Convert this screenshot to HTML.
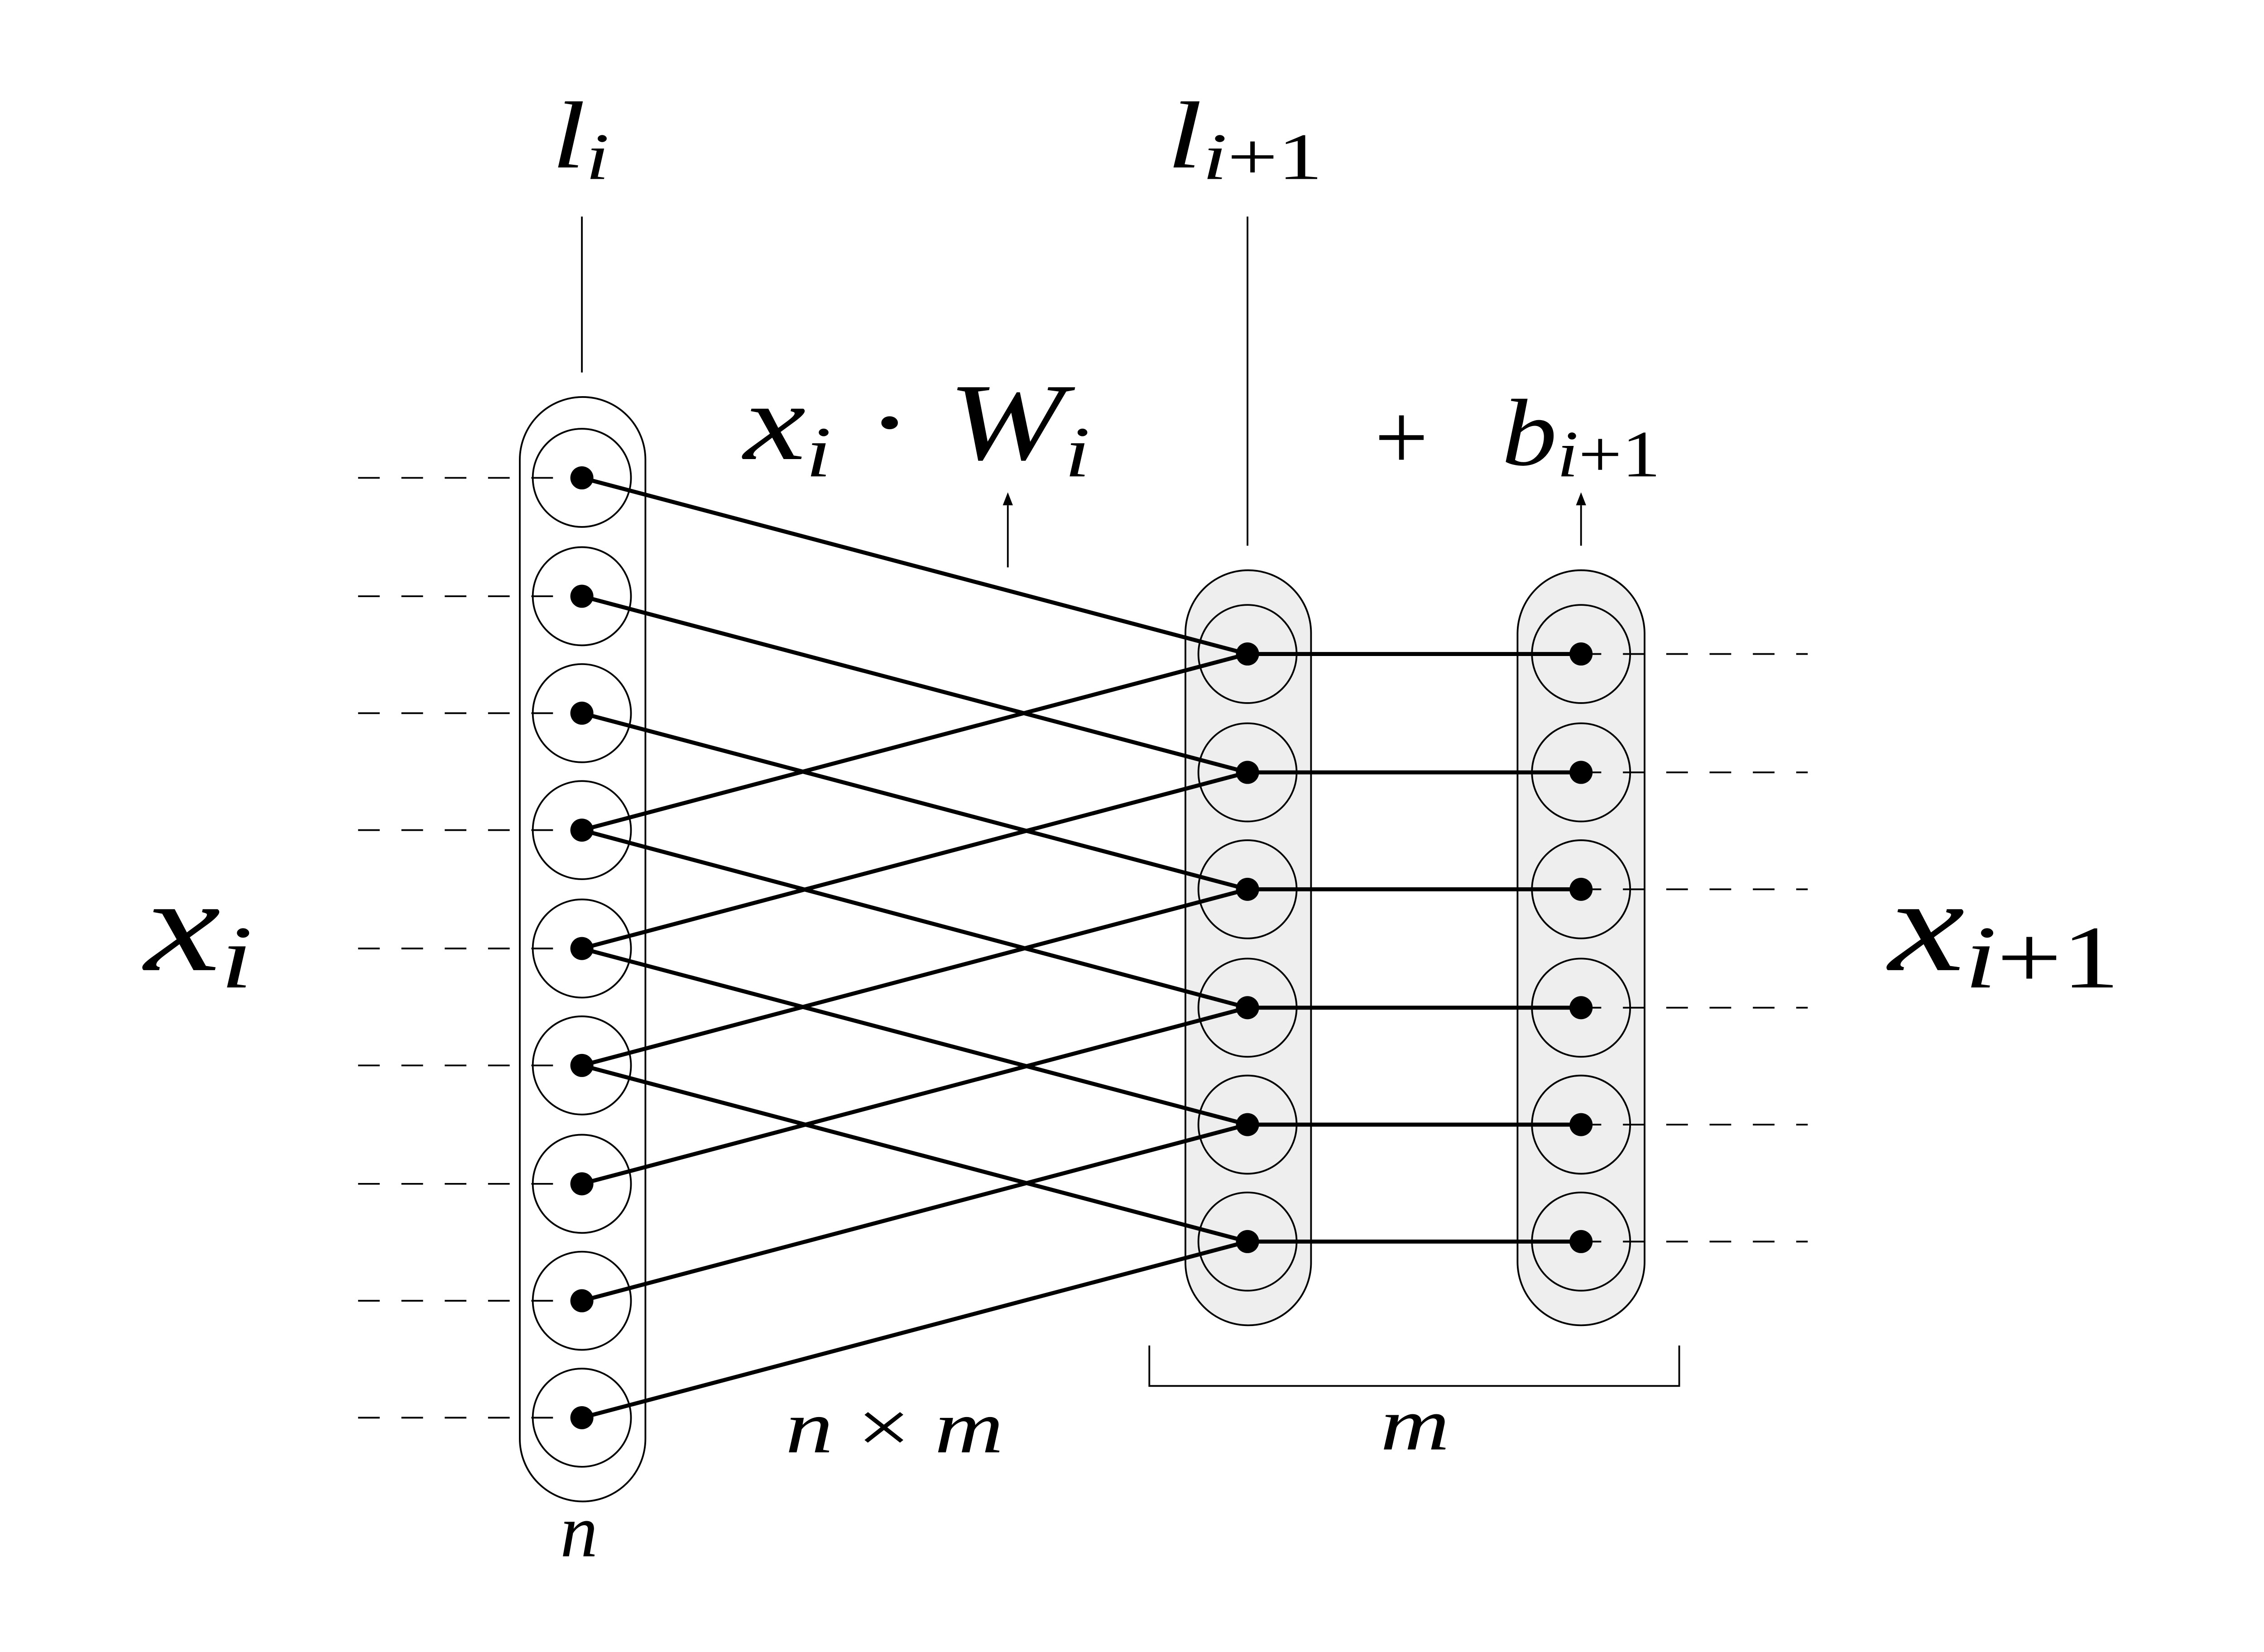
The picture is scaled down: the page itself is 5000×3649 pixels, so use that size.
<!DOCTYPE html>
<html><head><meta charset="utf-8"><style>html,body{margin:0;padding:0;background:#fff}svg{display:block}</style></head>
<body>
<svg width="5000" height="3649" viewBox="0 0 1568 1144.3" preserveAspectRatio="none" xmlns="http://www.w3.org/2000/svg" font-family="Liberation Serif, serif" font-style="italic">
<rect width="1568" height="1145" fill="#fff"/>
<rect x="360" y="275" width="87" height="765" rx="43.5" fill="#fff" stroke="#000" stroke-width="1.2"/>
<rect x="821" y="395" width="87" height="523" rx="43.5" fill="#eee" stroke="#000" stroke-width="1.2"/>
<rect x="1051" y="395" width="88" height="523" rx="44" fill="#eee" stroke="#000" stroke-width="1.2"/>
<g stroke="#000" stroke-width="1.2" stroke-dasharray="15 15" fill="none">
<line x1="248" y1="331" x2="403" y2="331"/><line x1="248" y1="413" x2="403" y2="413"/>
<line x1="248" y1="494" x2="403" y2="494"/><line x1="248" y1="575" x2="403" y2="575"/>
<line x1="248" y1="657" x2="403" y2="657"/><line x1="248" y1="738" x2="403" y2="738"/>
<line x1="248" y1="820" x2="403" y2="820"/><line x1="248" y1="901" x2="403" y2="901"/>
<line x1="248" y1="982" x2="403" y2="982"/>
<line x1="1094" y1="453" x2="1252" y2="453"/>
<line x1="1094" y1="535" x2="1252" y2="535"/>
<line x1="1094" y1="616" x2="1252" y2="616"/>
<line x1="1094" y1="698" x2="1252" y2="698"/>
<line x1="1094" y1="779" x2="1252" y2="779"/>
<line x1="1094" y1="860" x2="1252" y2="860"/>
</g>
<g fill="none" stroke="#000" stroke-width="1.2">
<circle cx="403" cy="331" r="34"/><circle cx="403" cy="413" r="34"/><circle cx="403" cy="494" r="34"/>
<circle cx="403" cy="575" r="34"/><circle cx="403" cy="657" r="34"/><circle cx="403" cy="738" r="34"/>
<circle cx="403" cy="820" r="34"/><circle cx="403" cy="901" r="34"/><circle cx="403" cy="982" r="34"/>
<circle cx="864" cy="453" r="34"/><circle cx="864" cy="535" r="34"/><circle cx="864" cy="616" r="34"/>
<circle cx="864" cy="698" r="34"/><circle cx="864" cy="779" r="34"/><circle cx="864" cy="860" r="34"/>
<circle cx="1095" cy="453" r="34"/><circle cx="1095" cy="535" r="34"/><circle cx="1095" cy="616" r="34"/>
<circle cx="1095" cy="698" r="34"/><circle cx="1095" cy="779" r="34"/><circle cx="1095" cy="860" r="34"/>
</g>
<g stroke="#000" stroke-width="2.8">
<line x1="403" y1="331" x2="864" y2="453"/><line x1="403" y1="413" x2="864" y2="535"/>
<line x1="403" y1="494" x2="864" y2="616"/><line x1="403" y1="575" x2="864" y2="698"/>
<line x1="403" y1="657" x2="864" y2="779"/><line x1="403" y1="738" x2="864" y2="860"/>
<line x1="403" y1="575" x2="864" y2="453"/><line x1="403" y1="657" x2="864" y2="535"/>
<line x1="403" y1="738" x2="864" y2="616"/><line x1="403" y1="820" x2="864" y2="698"/>
<line x1="403" y1="901" x2="864" y2="779"/><line x1="403" y1="982" x2="864" y2="860"/>
<line x1="864" y1="453" x2="1095" y2="453"/><line x1="864" y1="535" x2="1095" y2="535"/>
<line x1="864" y1="616" x2="1095" y2="616"/><line x1="864" y1="698" x2="1095" y2="698"/>
<line x1="864" y1="779" x2="1095" y2="779"/><line x1="864" y1="860" x2="1095" y2="860"/>
</g>
<g fill="#000">
<circle cx="403" cy="331" r="8"/><circle cx="403" cy="413" r="8"/><circle cx="403" cy="494" r="8"/>
<circle cx="403" cy="575" r="8"/><circle cx="403" cy="657" r="8"/><circle cx="403" cy="738" r="8"/>
<circle cx="403" cy="820" r="8"/><circle cx="403" cy="901" r="8"/><circle cx="403" cy="982" r="8"/>
<circle cx="864" cy="453" r="8"/><circle cx="864" cy="535" r="8"/><circle cx="864" cy="616" r="8"/>
<circle cx="864" cy="698" r="8"/><circle cx="864" cy="779" r="8"/><circle cx="864" cy="860" r="8"/>
<circle cx="1095" cy="453" r="8"/><circle cx="1095" cy="535" r="8"/><circle cx="1095" cy="616" r="8"/>
<circle cx="1095" cy="698" r="8"/><circle cx="1095" cy="779" r="8"/><circle cx="1095" cy="860" r="8"/>
</g>
<g stroke="#000" stroke-width="1.2">
<line x1="403" y1="150" x2="403" y2="258"/>
<line x1="864" y1="150" x2="864" y2="378"/>
<line x1="698" y1="393" x2="698" y2="350"/>
<line x1="1095" y1="378" x2="1095" y2="350"/>
<polyline points="796,932 796,960 1163,960 1163,932" fill="none"/>
</g>
<polygon points="698,341 694.5,350 701.5,350" fill="#000"/>
<polygon points="1095,341 1091.5,350 1098.5,350" fill="#000"/>
<g fill="#000">
<text x="382" y="116" font-size="66" textLength="40" lengthAdjust="spacingAndGlyphs">l<tspan font-size="46" dy="8">i</tspan></text>
<text x="808" y="116" font-size="66" textLength="108" lengthAdjust="spacingAndGlyphs">l<tspan font-size="46" dy="8" font-style="normal"><tspan font-style="italic">i</tspan>+1</tspan></text>
<text x="515" y="318" font-size="76" textLength="240" lengthAdjust="spacingAndGlyphs">x<tspan font-size="50" dy="12">i</tspan><tspan dy="-12" font-style="normal"> · </tspan>W<tspan font-size="50" dy="12">i</tspan></text>
<text x="952" y="325" font-size="66" font-style="normal">+</text>
<text x="1040" y="322" font-size="66" textLength="110" lengthAdjust="spacingAndGlyphs">b<tspan font-size="46" dy="8" font-style="normal"><tspan font-style="italic">i</tspan>+1</tspan></text>
<text x="100" y="672" font-size="92" textLength="75" lengthAdjust="spacingAndGlyphs">x<tspan font-size="62" dy="12">i</tspan></text>
<text x="1308" y="672" font-size="92" textLength="160" lengthAdjust="spacingAndGlyphs">x<tspan font-size="62" dy="12" font-style="normal"><tspan font-style="italic">i</tspan>+1</tspan></text>
<text x="544" y="1006" font-size="52" textLength="151" lengthAdjust="spacingAndGlyphs">n <tspan font-style="normal">×</tspan> m</text>
<text x="956" y="1004" font-size="52" textLength="48" lengthAdjust="spacingAndGlyphs">m</text>
<text x="388" y="1078" font-size="52">n</text>
</g>
</svg>
</body></html>
